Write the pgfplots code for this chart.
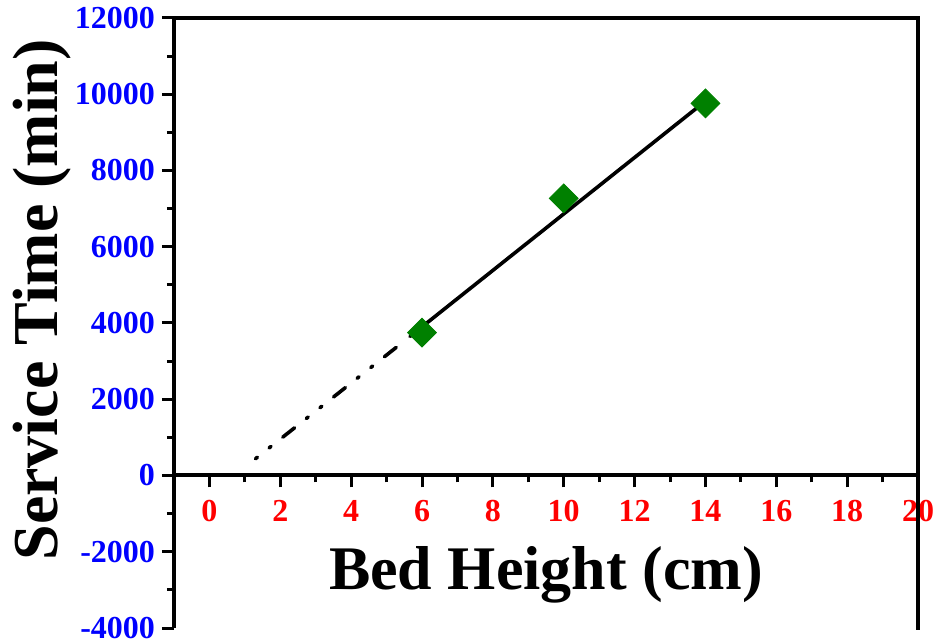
\documentclass[border=0pt]{standalone}
\usepackage{pgfplots}
\pgfplotsset{compat=1.18}
\usepackage{fontspec}
\setmainfont{Liberation Serif}
\definecolor{mkgreen}{RGB}{0,128,0}
\begin{document}
\begin{tikzpicture}
\begin{axis}[
  scale only axis, width=372pt, height=305pt,
  xmin=-1, xmax=20, ymin=-4000, ymax=12000,
  axis x line=middle, axis y line=left,
  x axis line style={-, line width=2pt},
  y axis line style={-, line width=2pt},
  xtick={0,2,...,20}, ytick={-4000,-2000,...,12000},
  minor x tick num=1, minor y tick num=1,
  tick align=outside,
  major tick length=6pt, minor tick length=3.5pt,
  every tick/.style={black, line width=1.5pt},
  scaled y ticks=false,
  /pgf/number format/1000 sep={},
  /pgf/number format/assume math mode=true,
  xticklabel style={font=\fontsize{16}{16}\selectfont\bfseries, text=red, yshift=-3pt},
  yticklabel style={font=\fontsize{16}{16}\selectfont\bfseries, text=blue},
  xlabel={Bed Height (cm)}, ylabel={Service Time (min)},
  xlabel style={font=\fontsize{31}{31}\selectfont\bfseries, at={(axis description cs:0.5,0.087)}, anchor=center},
  ylabel style={font=\fontsize{32}{32}\selectfont\bfseries, at={(axis description cs:-0.177,0.538)}, anchor=center, rotate=0},
  clip=false,
]
\addplot[black, line width=1.8pt, line cap=round] coordinates {(5.66,3648) (14.1,9894)};
\addplot[black, line width=1.8pt, line cap=round, dash pattern=on 1.2pt off 7.5pt on 1.2pt off 7.5pt on 7.5pt off 7.5pt] coordinates {(1.3,440) (5.3,3380)};
\addplot[only marks, mark=square*, mark size=5.1pt, mark options={rotate=45, fill=mkgreen, draw=mkgreen}] coordinates {(6,3750) (10,7270) (14,9760)};
\coordinate (sw) at (rel axis cs:0,0);
\coordinate (ne) at (rel axis cs:1,1);
\draw[line width=2pt, line cap=rect] (rel axis cs:0,1) -- (rel axis cs:1,1) -- (rel axis cs:1,0);
\end{axis}
\pgfresetboundingbox
\path ([xshift=-87pt,yshift=-6pt]sw) rectangle ([xshift=10.5pt,yshift=9pt]ne);
\end{tikzpicture}
\end{document}
